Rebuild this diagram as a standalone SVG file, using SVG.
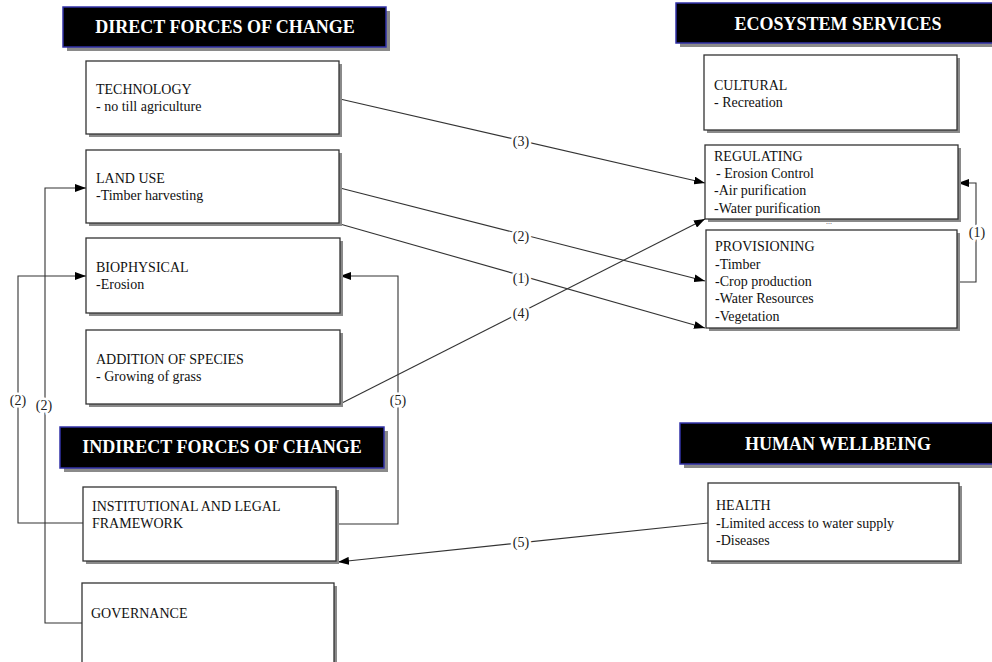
<svg xmlns="http://www.w3.org/2000/svg" width="992" height="662" viewBox="0 0 992 662">
<style>
.shadow{fill:#8a8a8a;}
.box{fill:#fff;stroke:#333;stroke-width:1.3;}
.hdr{fill:#000;stroke:#3232a8;stroke-width:1.5;}
.ht{font-family:"Liberation Serif",serif;font-weight:bold;font-size:18px;fill:#fff;text-anchor:middle;}
.t{font-family:"Liberation Serif",serif;font-size:14px;fill:#111;}
.c{fill:none;stroke:#333;stroke-width:1.1;}
.lbl{font-family:"Liberation Serif",serif;font-size:14px;fill:#222;text-anchor:middle;stroke:#fff;stroke-width:5;paint-order:stroke;stroke-linejoin:round;}
</style>
<defs>
<marker id="arr" markerUnits="userSpaceOnUse" markerWidth="11" markerHeight="8" refX="11" refY="4" orient="auto">
<path d="M0,0 L11,4 L0,8 z" fill="#000"/>
</marker>
</defs>
<rect width="992" height="662" fill="#fff"/>

<g id="hdr-direct">
<rect class="shadow" x="67" y="11" width="323" height="40"/>
<rect class="hdr" x="63" y="7" width="323" height="40"/>
<text class="ht" x="225" y="33">DIRECT FORCES OF CHANGE</text>
</g>
<g id="hdr-ecosystem">
<rect class="shadow" x="680" y="7" width="320" height="40"/>
<rect class="hdr" x="676" y="3" width="320" height="40"/>
<text class="ht" x="838" y="30">ECOSYSTEM SERVICES</text>
</g>
<g id="hdr-indirect">
<rect class="shadow" x="64" y="431" width="324" height="41"/>
<rect class="hdr" x="60" y="427" width="324" height="41"/>
<text class="ht" x="222" y="453">INDIRECT FORCES OF CHANGE</text>
</g>
<g id="hdr-human">
<rect class="shadow" x="684" y="427" width="320" height="41"/>
<rect class="hdr" x="680" y="423" width="320" height="41"/>
<text class="ht" x="838" y="450">HUMAN WELLBEING</text>
</g>

<g id="connectors">
<path class="c" d="M340,99 L705,183" marker-end="url(#arr)"/>
<path class="c" d="M340,188 L705,281" marker-end="url(#arr)"/>
<path class="c" d="M340,224 L705,328" marker-end="url(#arr)"/>
<path class="c" d="M340,404 L705,219" marker-end="url(#arr)"/>
<path class="c" d="M957,282 H976 V183 H958" marker-end="url(#arr)"/>
<path class="c" d="M83,523 H18 V276 H86" marker-end="url(#arr)"/>
<path class="c" d="M82,623 H45 V188 H86" marker-end="url(#arr)"/>
<path class="c" d="M336,524 H398 V276 H340" marker-end="url(#arr)"/>
<path class="c" d="M708,523 L338,562" marker-end="url(#arr)"/>
<text class="lbl" x="521" y="146">(3)</text>
<text class="lbl" x="521" y="241">(2)</text>
<text class="lbl" x="521" y="283">(1)</text>
<text class="lbl" x="521" y="318">(4)</text>
<text class="lbl" x="977" y="237">(1)</text>
<text class="lbl" x="18" y="405">(2)</text>
<text class="lbl" x="44" y="410">(2)</text>
<text class="lbl" x="398" y="405">(5)</text>
<text class="lbl" x="521" y="547">(5)</text>
</g>

<g id="technology">
<rect class="shadow" x="89" y="64" width="253" height="73"/>
<rect class="box" x="86" y="61" width="253" height="73"/>
<text class="t" x="96" y="94">TECHNOLOGY</text>
<text class="t" x="96" y="111">- no till agriculture</text>
</g>
<g id="land-use">
<rect class="shadow" x="89" y="153" width="253" height="73"/>
<rect class="box" x="86" y="150" width="253" height="73"/>
<text class="t" x="96" y="183">LAND USE</text>
<text class="t" x="96" y="200">-Timber harvesting</text>
</g>
<g id="biophysical">
<rect class="shadow" x="89" y="241" width="254" height="75"/>
<rect class="box" x="86" y="238" width="254" height="75"/>
<text class="t" x="96" y="272">BIOPHYSICAL</text>
<text class="t" x="96" y="289">-Erosion</text>
</g>
<g id="addition-of-species">
<rect class="shadow" x="89" y="333" width="254" height="74"/>
<rect class="box" x="86" y="330" width="254" height="74"/>
<text class="t" x="96" y="364">ADDITION OF SPECIES</text>
<text class="t" x="96" y="381">- Growing of grass</text>
</g>
<g id="institutional">
<rect class="shadow" x="86" y="490" width="253" height="74"/>
<rect class="box" x="83" y="487" width="253" height="74"/>
<text class="t" x="92" y="511">INSTITUTIONAL AND LEGAL</text>
<text class="t" x="92" y="528">FRAMEWORK</text>
</g>
<g id="governance">
<rect class="shadow" x="85" y="586" width="252" height="82"/>
<rect class="box" x="82" y="583" width="252" height="82"/>
<text class="t" x="91" y="618">GOVERNANCE</text>
</g>
<g id="cultural">
<rect class="shadow" x="707" y="58" width="253" height="75"/>
<rect class="box" x="704" y="55" width="253" height="75"/>
<text class="t" x="714" y="90">CULTURAL</text>
<text class="t" x="714" y="107">- Recreation</text>
</g>
<g id="regulating">
<rect class="shadow" x="708" y="148" width="253" height="74"/>
<rect class="box" x="705" y="145" width="253" height="74"/>
<text class="t" x="714" y="161">REGULATING</text>
<text class="t" x="716" y="178">- Erosion Control</text>
<text class="t" x="714" y="195">-Air purification</text>
<text class="t" x="714" y="213">-Water purification</text>
<text x="829" y="224" font-family="Liberation Serif, serif" font-size="8" fill="#333" text-anchor="middle">...</text>
</g>
<g id="provisioning">
<rect class="shadow" x="709" y="233" width="251" height="98"/>
<rect class="box" x="706" y="230" width="251" height="98"/>
<text class="t" x="715" y="251">PROVISIONING</text>
<text class="t" x="715" y="269">-Timber</text>
<text class="t" x="715" y="286">-Crop production</text>
<text class="t" x="715" y="303">-Water Resources</text>
<text class="t" x="715" y="321">-Vegetation</text>
</g>
<g id="health">
<rect class="shadow" x="711" y="486" width="251" height="78"/>
<rect class="box" x="708" y="483" width="251" height="78"/>
<text class="t" x="716" y="510">HEALTH</text>
<text class="t" x="716" y="528">-Limited access to water supply</text>
<text class="t" x="716" y="545">-Diseases</text>
</g>
</svg>
